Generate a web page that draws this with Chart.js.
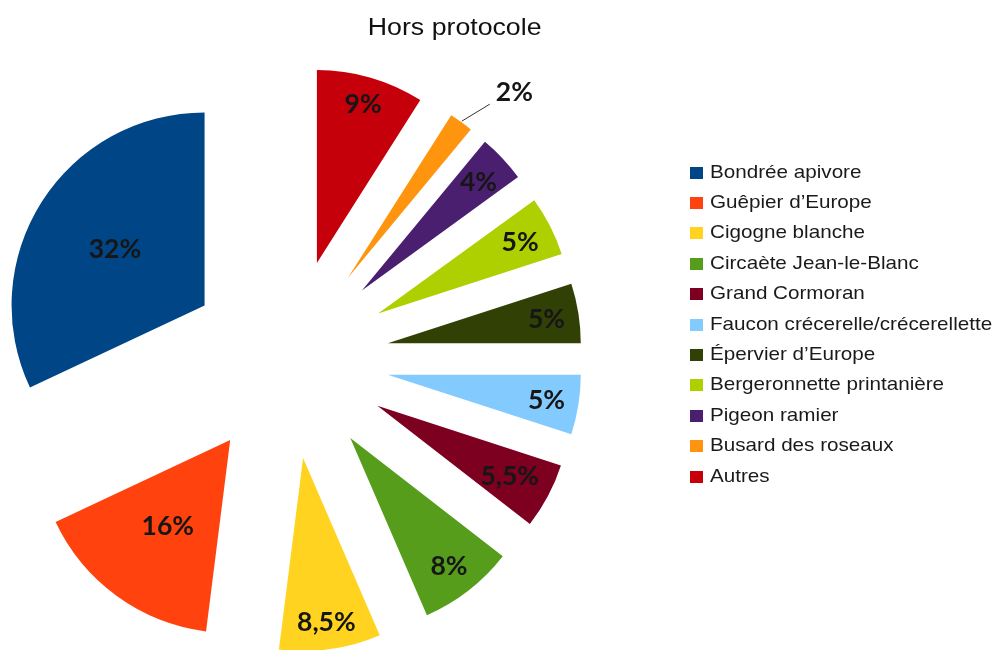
<!DOCTYPE html>
<html lang="fr">
<head>
<meta charset="utf-8">
<title>Hors protocole</title>
<script src="https://cdn.jsdelivr.net/npm/chart.js@4.4.1/dist/chart.umd.min.js"></script>
<style>
  html, body { margin: 0; padding: 0; background: #ffffff; }
  #wrap { position: relative; width: 1000px; height: 650px; overflow: hidden; background: #ffffff; }
  #chart { position: absolute; left: 0; top: 0; }
  #title {
    position: absolute; left: 0; top: 15px; width: 910px; text-align: center;
    font-family: "Liberation Sans", Arial, sans-serif; font-size: 24.5px; line-height: 24.5px;
    color: #111111; white-space: nowrap;
  }
  #title span { display: inline-block; transform: scaleX(1.09); }
  #legend { position: absolute; left: 0; top: 0; width: 1000px; height: 650px; pointer-events: none; }
  .item { position: absolute; left: 690px; height: 1px; white-space: nowrap; }
  .swatch { position: absolute; left: 0; top: -6px; width: 13px; height: 12px; }
  .name {
    position: absolute; left: 20px; top: -10px;
    font-family: "Liberation Sans", Arial, sans-serif; font-size: 18.6px; line-height: 18.6px;
    color: #1a1a1a; transform: scaleX(1.11); transform-origin: 0 50%;
  }
</style>
</head>
<body>
<div id="wrap">
  <canvas id="chart" width="1000" height="650"></canvas>
  <div id="title"></div>
  <div id="legend"></div>
</div>
<script>
// ---- data (legend order) ----
const chartTitle = 'Hors protocole';
const species = [
  'Bondrée apivore',
  'Guêpier d’Europe',
  'Cigogne blanche',
  'Circaète Jean-le-Blanc',
  'Grand Cormoran',
  'Faucon crécerelle/crécerellette',
  'Épervier d’Europe',
  'Bergeronnette printanière',
  'Pigeon ramier',
  'Busard des roseaux',
  'Autres'
];
const shares = [32, 16, 8.5, 8, 5.5, 5, 5, 5, 4, 2, 9];
const palette = ['#004586', '#ff420e', '#ffd320', '#579d1c', '#7e0021', '#83caff',
                 '#314004', '#aecf00', '#4b1f6f', '#ff950e', '#c5000b'];

function formatShare(v) { return String(v).replace('.', ',') + '%'; }

// ---- title & legend (real text) ----
const titleSpan = document.createElement('span');
titleSpan.textContent = chartTitle;
document.getElementById('title').appendChild(titleSpan);

const legendEl = document.getElementById('legend');
const legendTop = 172.5, legendStep = 30.4;
species.forEach((name, i) => {
  const item = document.createElement('div');
  item.className = 'item';
  item.style.top = (legendTop + i * legendStep) + 'px';
  const sw = document.createElement('div');
  sw.className = 'swatch';
  sw.style.background = palette[i];
  const tx = document.createElement('div');
  tx.className = 'name';
  tx.textContent = name;
  item.appendChild(sw);
  item.appendChild(tx);
  legendEl.appendChild(item);
});

// ---- plugins ----
// Exploded pie: every slice pushed outward along its bisector.
const explodePlugin = {
  id: 'explode',
  afterDatasetUpdate(chart, args, opts) {
    args.meta.data.forEach(arc => {
      const mid = (arc.startAngle + arc.endAngle) / 2;
      arc.x += Math.cos(mid) * opts.distance;
      arc.y += Math.sin(mid) * opts.distance;
    });
  }
};

// Percentage labels, inside when they fit, outside with a leader line otherwise.
const sliceLabelPlugin = {
  id: 'sliceLabels',
  afterDatasetsDraw(chart, args, o) {
    const ctx = chart.ctx;
    const meta = chart.getDatasetMeta(0);
    const values = chart.data.datasets[0].data;
    ctx.save();
    ctx.font = o.weight + ' ' + o.size + 'px ' + o.family;
    ctx.fillStyle = o.color;
    const capH = o.size * 0.72;
    meta.data.forEach((arc, i) => {
      const text = formatShare(values[i]);
      const mid = (arc.startAngle + arc.endAngle) / 2;
      const half = (arc.endAngle - arc.startAngle) / 2;
      const ux = Math.cos(mid), uy = Math.sin(mid);
      const r = arc.outerRadius;
      const W = ctx.measureText(text).width + o.padX * 2;
      const H = o.boxHeight;
      // minimal distance for the label box to fit between the two slice edges
      let tMin = 0;
      [mid - half, mid + half].forEach(phi => {
        const nx = Math.abs(Math.sin(phi)), ny = Math.abs(Math.cos(phi));
        tMin = Math.max(tMin, (o.edgeMargin + W / 2 * nx + H / 2 * ny) / Math.sin(half));
      });
      const tDefault = r * o.innerFraction;
      // outermost position: farthest corner of the box just inside the arc
      const cx = W / 2 * Math.sign(ux), cy = H / 2 * Math.sign(uy);
      const uc = ux * cx + uy * cy;
      const R = r - o.edgeMargin;
      const tOuter = -uc + Math.sqrt(uc * uc - (cx * cx + cy * cy) + R * R);
      let t;
      if (tMin <= tDefault) t = tDefault;
      else if (2 * tOuter * Math.sin(half) >= H) t = tOuter;
      else t = null;

      if (t !== null) {
        ctx.textAlign = 'center';
        ctx.textBaseline = 'alphabetic';
        ctx.fillText(text, arc.x + ux * t, arc.y + uy * t + capH / 2);
      } else {
        const px = arc.x + ux * (r + 1), py = arc.y + uy * (r + 1);
        const qx = px + Math.sign(ux) * o.leaderDx, qy = py + Math.sign(uy) * o.leaderDy;
        ctx.strokeStyle = o.leaderColor;
        ctx.lineWidth = 1;
        ctx.beginPath();
        ctx.moveTo(px, py);
        ctx.lineTo(qx, qy);
        ctx.stroke();
        ctx.textAlign = ux >= 0 ? 'left' : 'right';
        ctx.textBaseline = 'alphabetic';
        ctx.fillText(text, qx + Math.sign(ux) * o.leaderGap, qy - 3);
      }
    });
    ctx.restore();
  }
};

// ---- chart (slices drawn clockwise from 12 o'clock, so legend order reversed) ----
const drawOrder = species.map((_, i) => i).reverse();

new Chart(document.getElementById('chart').getContext('2d'), {
  type: 'pie',
  data: {
    labels: drawOrder.map(i => species[i]),
    datasets: [{
      data: drawOrder.map(i => shares[i]),
      backgroundColor: drawOrder.map(i => palette[i]),
      borderWidth: 0,
      hoverOffset: 0,
      radius: 193,
      clip: false
    }]
  },
  options: {
    responsive: false,
    animation: false,
    events: [],
    rotation: 0,
    layout: { padding: { left: 0, right: 422, top: 68, bottom: 0 } },
    plugins: {
      legend: { display: false },
      title: { display: false },
      tooltip: { enabled: false },
      explode: { distance: 100 },
      sliceLabels: {
        size: 26.5,
        weight: 'bold',
        family: 'Lato, "Open Sans", sans-serif',
        color: '#161616',
        padX: 3,
        boxHeight: 24,
        edgeMargin: 9,
        innerFraction: 0.55,
        leaderDx: 28,
        leaderDy: 17,
        leaderGap: 6,
        leaderColor: '#333333'
      }
    }
  },
  plugins: [explodePlugin, sliceLabelPlugin]
});
</script>
</body>
</html>
